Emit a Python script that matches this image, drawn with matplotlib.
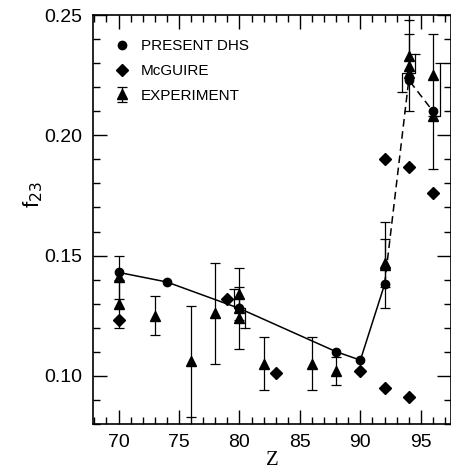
import numpy as np
import matplotlib
matplotlib.use("Agg")
import matplotlib.pyplot as plt
from matplotlib.ticker import MultipleLocator

plt.rcParams["font.family"] = ["Liberation Sans", "DejaVu Sans"]

# present DHS calculation (solid up to Z=92, dashed beyond)
dhs_z = [70, 74, 80, 88, 90, 92, 94, 96]
dhs_f = [0.143, 0.139, 0.128, 0.110, 0.1065, 0.138, 0.223, 0.210]

# McGuire values
mcg_z = [70, 79, 83, 90, 92, 92, 94, 94, 96]
mcg_f = [0.123, 0.132, 0.101, 0.102, 0.095, 0.190, 0.187, 0.091, 0.176]

# experiment values with errors
exp_z = [70, 70, 73, 76, 78, 80, 80, 80, 82, 86, 88, 92, 92, 94, 94, 94, 96, 96]
exp_f = [0.141, 0.130, 0.125, 0.106, 0.126, 0.134, 0.128, 0.124, 0.105, 0.105,
         0.102, 0.146, 0.147, 0.233, 0.229, 0.226, 0.225, 0.208]
exp_err = [0.009, 0.010, 0.008, 0.023, 0.021, 0.011, 0.008, 0.013, 0.011, 0.011,
           0.006, 0.018, 0.010, 0.009, 0.019, 0.008, 0.017, 0.022]

# some error bars are drawn off to the side (bracket style) for clarity:
# index -> (shift of upper half, shift of lower half) in Z units
split = {6: (-0.45, 0.45), 15: (0.5, -0.55), 17: (0.6, 0.0)}

fig = plt.figure(figsize=(4.52, 4.72), dpi=100)
ax = fig.add_axes([0.206, 0.102, 0.792, 0.866])

k = "black"
n_solid = dhs_z.index(92) + 1
ax.plot(dhs_z[:n_solid], dhs_f[:n_solid], "-", color=k, lw=1.1)
ax.plot(dhs_z[n_solid - 1:], dhs_f[n_solid - 1:], "--", color=k, lw=1.1,
        dashes=(5, 3))
h_dhs, = ax.plot(dhs_z, dhs_f, "o", color=k, ms=6, ls="none", label="PRESENT DHS")
h_mcg, = ax.plot(mcg_z, mcg_f, "D", color=k, ms=6.5, ls="none", label="McGUIRE")

z = np.array(exp_z, float)
f = np.array(exp_f)
e = np.array(exp_err)
normal = np.array([i not in split for i in range(len(z))])
h_exp = ax.errorbar(z[normal], f[normal], yerr=e[normal], fmt="^", color=k,
                    ms=7, elinewidth=0.9, capsize=3.5, capthick=0.9,
                    label="EXPERIMENT")
ax.plot(z[~normal], f[~normal], "^", color=k, ms=7, ls="none")
for i, (su, sd) in split.items():
    for s, sign in ((su, 1), (sd, -1)):
        top = f[i] + sign * e[i]
        ax.plot([z[i], z[i] + s, z[i] + s], [f[i], f[i], top], "-", color=k, lw=0.9)
        ax.plot([z[i] + s], [top], marker="_", color=k, ms=7, mew=0.9)

ax.set_xlim(67.9, 97.5)
ax.set_ylim(0.08, 0.25)
ax.xaxis.set_major_locator(MultipleLocator(5))
ax.xaxis.set_minor_locator(MultipleLocator(1))
ax.yaxis.set_major_locator(MultipleLocator(0.05))
ax.yaxis.set_minor_locator(MultipleLocator(0.01))
ax.yaxis.set_major_formatter(plt.FormatStrFormatter("%.2f"))
ax.tick_params(which="both", direction="in", top=True, right=True,
               labelsize=14, width=1)
ax.tick_params(axis="y", pad=8)
ax.tick_params(axis="x", pad=7)
ax.tick_params(which="major", length=10)
ax.tick_params(which="minor", length=5)
for sp in ax.spines.values():
    sp.set_linewidth(1.2)

ax.set_xlabel("Z", family=["Liberation Serif"], fontsize=15, labelpad=0)
ax.set_ylabel("f$_{23}$", fontsize=16)
ax.yaxis.set_label_coords(-0.135, 0.56)

ax.legend(handles=[h_dhs, h_mcg, h_exp], loc="upper left", frameon=False,
          fontsize=11, handlelength=1.0, handletextpad=0.7, labelspacing=0.7,
          bbox_to_anchor=(0.03, 0.967), borderaxespad=0.3)

fig.savefig("out.png", dpi=100)
